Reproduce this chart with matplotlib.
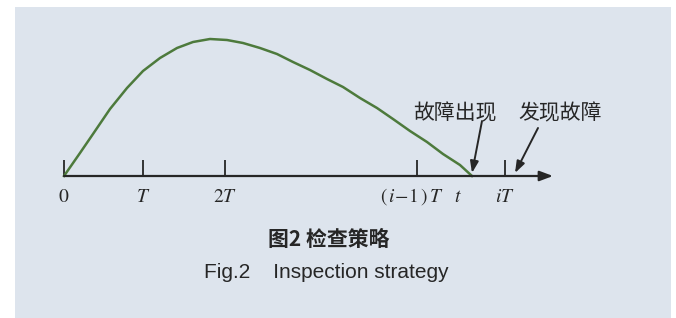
import matplotlib
matplotlib.use("Agg")
from matplotlib import pyplot as plt
from matplotlib.patches import Rectangle

plt.rcParams['mathtext.fontset'] = 'stix'

# curve: time (1 unit ~ 1 px, T ~ 80) vs. height above axis
curve_x = [0, 16, 29, 46, 63, 79, 96, 113, 129, 146, 163, 179, 196, 213,
           229, 246, 263, 279, 296, 313, 329, 346, 363, 379, 396, 408]
curve_y = [0, 23, 42, 67, 88, 105, 118, 128, 134, 137, 136, 133, 128, 122,
           114, 106, 97, 89, 78, 68, 57, 45, 34, 22, 11, 0]

tick_pos = [0, 79, 161, 353, 441]
tick_labels = ['$0$', '$T$', '$2T$', '$(\\,i\\!-\\!1\\,)\\,T$', '$iT$']
fail_time = 408
axis_end = 489

notes = ['故障出现', '发现故障']
note_tips = [(fail_time, 3), (451, 3)]
note_tails = [(418, 55), (474, 48)]

caption_cn = '图2 检查策略'
caption_en = 'Fig.2    Inspection strategy'

fig = plt.figure(figsize=(6.76, 3.18), dpi=100)
fig.patch.set_facecolor('white')

ax = fig.add_axes([0, 0, 1, 1])
ax.set_xlim(-64, 612)
ax.set_ylim(-142, 176)
ax.axis('off')
ax.add_patch(Rectangle((15 / 676, 0), 656 / 676, 311 / 318,
                       transform=ax.transAxes, facecolor='#dde4ed',
                       edgecolor='none', zorder=-5))

ink = '#262626'

# time axis with arrow
ax.annotate('', xy=(axis_end, 0), xytext=(0, 0),
            arrowprops=dict(arrowstyle='-|>,head_length=0.8,head_width=0.3',
                            color=ink, lw=1.6, shrinkA=0, shrinkB=0))

for p, lab in zip(tick_pos, tick_labels):
    ax.plot([p, p], [0, 16], color=ink, lw=1.3, solid_capstyle='butt')
    dx = -5 if p == tick_pos[3] else 0
    ax.text(p + dx, -21, lab, ha='center', va='center', fontsize=14, color=ink)

ax.text(fail_time - 14, -21, '$t$', ha='center', va='center', fontsize=14, color=ink)

ax.plot(curve_x, curve_y, color='#4d7a3c', lw=1.8, solid_joinstyle='round')

for note, tip, tail in zip(notes, note_tips, note_tails):
    ax.annotate('', xy=tip, xytext=tail,
                arrowprops=dict(arrowstyle='-|>,head_length=0.7,head_width=0.25',
                                color=ink, lw=1.4, shrinkA=0, shrinkB=0))
ax.text(391, 63, notes[0], ha='center', va='center', fontsize=15,
        family=['Noto Sans CJK SC'], color=ink)
ax.text(496, 63, notes[1], ha='center', va='center', fontsize=15,
        family=['Noto Sans CJK SC'], color=ink)

ax.text(265, -63, caption_cn, ha='center', va='center', fontsize=15,
        fontweight='bold', family=['Noto Sans CJK SC', 'DejaVu Sans'], color=ink)
ax.text(262, -96, caption_en, ha='center', va='center', fontsize=15,
        family=['Liberation Sans'], color=ink)

fig.savefig('out.png', dpi=100)
plt.close(fig)
